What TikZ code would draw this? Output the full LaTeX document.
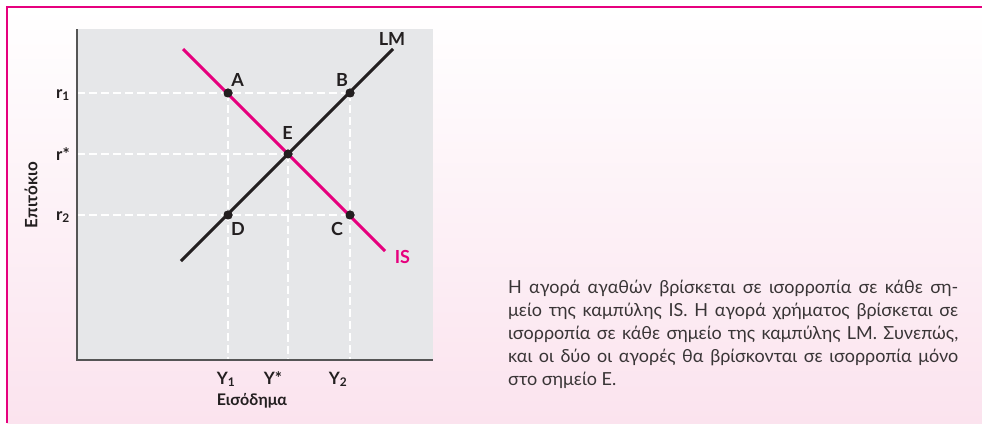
\documentclass[tikz,border=0pt]{standalone}
\usepackage{fontspec}
\setmainfont{Lato}
\usepackage{xcolor}
\usetikzlibrary{positioning}
\definecolor{ismag}{RGB}{230,0,126}
\definecolor{bgpink}{RGB}{251,227,238}
\definecolor{plotgray}{RGB}{230,231,233}
\definecolor{ink}{RGB}{35,31,32}
\definecolor{axisgray}{RGB}{85,85,85}

\begin{document}
\begin{tikzpicture}[x=1pt, y=-1pt,
  font=\fontsize{17}{20}\selectfont\bfseries,
  curve/.style={line width=3pt},
  guide/.style={white, line width=1.5pt, dash pattern=on 8pt off 4pt},
  dot/.style={circle, fill=ink, inner sep=0pt, minimum size=9pt},
  ptlabel/.style={text=ink, inner sep=0pt, font=\fontsize{18}{21}\selectfont\bfseries},
  ticklabel/.style={text=ink, inner sep=0pt},
  axlabel/.style={text=ink, inner sep=0pt, font=\fontsize{16}{19}\selectfont\bfseries}]
\useasboundingbox (0,0) rectangle (982,423);
\shade[top color=white, bottom color=bgpink] (7,7) rectangle (982,423);
\draw[ismag, line width=1.5pt] (982,7) -- (7,7) -- (7,423);
\fill[plotgray] (77,29) rectangle (433,360);

\coordinate (r1) at (77,93);
\coordinate (rs) at (77,154);
\coordinate (r2) at (77,215);
\coordinate (y1) at (228,360);
\coordinate (ys) at (288,360);
\coordinate (y2) at (350,360);
\coordinate (istop) at (183,49);
\coordinate (isbot) at (385,251);
\coordinate (lmbot) at (181,261);
\coordinate (lmtop) at (393,49);

\node[dot] (A) at (228,93) {};
\node[dot] (B) at (350,93) {};
\node[dot] (E) at (288,154) {};
\node[dot] (D) at (228,215) {};
\node[dot] (C) at (350,215) {};

\draw[guide] (r1) -- (B.center);
\draw[guide] (rs) -- (E.center);
\draw[guide] (r2) -- (C.center);
\draw[guide] (A.center) -- (y1);
\draw[guide] (E.center) -- (ys);
\draw[guide] (B.center) -- (y2);
\draw[axisgray, line width=1.2pt] (77,29) -- (77,360) -- (433,360);

\draw[curve, ismag] (istop) -- (isbot);
\draw[curve, ink] (lmbot) -- (lmtop);
\foreach \p in {A,B,E,D,C} \node[dot] at (\p) {};

\node[ptlabel, anchor=base] (Alab) at (237.5,86) {A};
\node[ptlabel, anchor=base] (Blab) at (342,86) {B};
\node[ptlabel, anchor=base] (Elab) at (287.5,139) {E};
\node[ptlabel, anchor=base] (Dlab) at (238,235) {D};
\node[ptlabel, anchor=base] (Clab) at (337,235) {C};
\node[ptlabel, anchor=base] (lmlab) at (392,45) {LM};
\node[ptlabel, anchor=base, text=ismag] (islab) at (402.5,263) {IS};

\node[ticklabel, anchor=base east] (r1lab) at (70,98) {r\textsubscript{1}};
\node[ticklabel, anchor=base east] (rslab) at (70,160) {r*};
\node[ticklabel, anchor=base east] (r2lab) at (70,220) {r\textsubscript{2}};
\node[ticklabel, anchor=base] (y1lab) at (226,384) {Y\textsubscript{1}};
\node[ticklabel, anchor=base] (yslab) at (273,384) {Y*};
\node[ticklabel, anchor=base] (y2lab) at (338,384) {Y\textsubscript{2}};
\node[axlabel, anchor=base] (xlab) at (252,405) {Εισόδημα};
\node[axlabel, rotate=90, font=\fontsize{17}{20}\selectfont\bfseries] (ylab) at (31,195) {Επιτόκιο};

\node[anchor=base west, text width=450pt, align=justify, inner sep=0pt, text=ink!90,
      font=\fontsize{18}{23}\selectfont] (note) at (508,293)
  {Η αγορά αγαθών βρίσκεται σε ισορροπία σε κάθε ση-\linebreak
   μείο της καμπύλης IS. Η αγορά χρήματος βρίσκεται σε\linebreak
   ισορροπία σε κάθε σημείο της καμπύλης LM. Συνεπώς,\linebreak
   και οι δύο οι αγορές θα βρίσκονται σε ισορροπία μόνο\linebreak
   στο σημείο Ε.};
\end{tikzpicture}
\end{document}
